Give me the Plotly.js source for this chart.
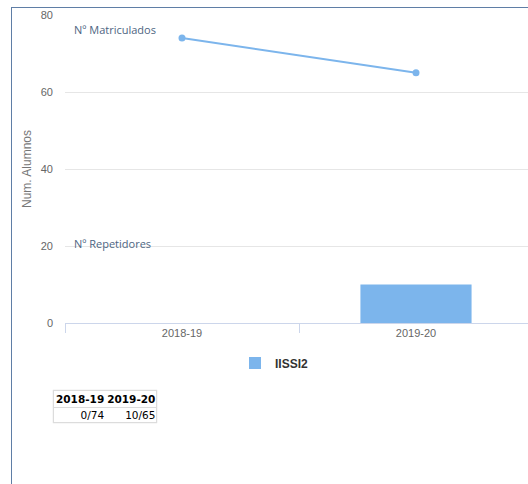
<!DOCTYPE html>
<html>
<head>
<meta charset="utf-8">
<script src="https://cdn.plot.ly/plotly-3.0.1.min.js"></script>
<style>
  html, body { margin: 0; padding: 0; width: 528px; height: 484px; overflow: hidden; background: #fff; }
  #frame { position: absolute; left: 11px; top: 7px; width: 600px; height: 600px;
           border-left: 1px solid #5f7ea6; border-top: 1px solid #5f7ea6; }
  #chart { position: absolute; left: 0; top: 0; width: 540px; height: 484px; }
  #tbl { position: absolute; left: 53px; top: 390px; border-collapse: collapse;
         font-family: "DejaVu Sans", sans-serif; font-size: 10.5px; color: #000;
         border: 1px solid #dcdcdc; box-shadow: 0 0 1px #ccc; }
  #tbl th { font-weight: bold; padding: 2px 1px 2px 2px; text-align: right; border-bottom: 1px solid #dcdcdc; }
  #tbl td { padding: 1px 1px 1px 2px; text-align: right; }
</style>
</head>
<body>
<div id="frame"></div>
<div id="chart"></div>
<table id="tbl"></table>
<script>
// ---- data ----
const categories = ['2018-19', '2019-20'];
const enrolled = [74, 65];          // Nº Matriculados
const repeaters = [0, 10];          // Nº Repetidores
const seriesName = 'IISSI2';
const yTicks = [0, 20, 40, 60, 80];
const labelMatriculados = 'Nº Matriculados';
const labelRepetidores = 'Nº Repetidores';
const yTitle = 'Num. Alumnos';

const blue = '#7cb5ec';

const traces = [
  {
    type: 'bar', x: categories, y: repeaters, name: seriesName,
    marker: { color: blue, line: { width: 0 } }, width: 0.475,
    showlegend: true, hoverinfo: 'x+y'
  },
  {
    type: 'scatter', mode: 'lines+markers', x: categories, y: enrolled, name: seriesName,
    line: { color: blue, width: 2 }, marker: { color: blue, size: 7 },
    showlegend: false
  }
];

const layout = {
  width: 540, height: 484,
  margin: { l: 65, r: 7, t: 15, b: 161 },
  paper_bgcolor: 'rgba(0,0,0,0)', plot_bgcolor: 'rgba(0,0,0,0)',
  font: { family: '"Liberation Sans", Arial, sans-serif', size: 11, color: '#666' },
  showlegend: true,
  legend: {
    orientation: 'h', x: (235 - 65) / 468, xanchor: 'left', y: (323 - 363) / 308, yanchor: 'middle',
    font: { family: '"Liberation Sans", Arial, sans-serif', size: 12, color: '#333', weight: 'bold' },
    bgcolor: 'rgba(0,0,0,0)'
  },
  xaxis: {
    type: 'category', range: [-0.5, 1.5], showgrid: false, zeroline: false,
    showline: true, linecolor: '#ccd6eb', linewidth: 1,
    ticks: 'outside', tickson: 'boundaries', ticklen: 9, tickcolor: '#ccd6eb', tickwidth: 1,
    tickfont: { size: 11, color: '#666' }, fixedrange: true
  },
  yaxis: {
    range: [0, 80], tickvals: yTicks, ticktext: yTicks.map(String),
    showgrid: true, gridcolor: '#e6e6e6', gridwidth: 1, zeroline: false, showline: false,
    ticks: '', ticklabelstandoff: 11,
    tickfont: { size: 11, color: '#666' },
    title: { text: yTitle, font: { size: 12, color: '#777' }, standoff: 6 },
    fixedrange: true
  },
  annotations: [
    { text: labelMatriculados, xref: 'paper', yref: 'paper', x: (72 - 65) / 468, y: (323 - 30) / 308,
      xanchor: 'left', yanchor: 'middle', showarrow: false,
      font: { family: '"Open Sans", sans-serif', size: 11, color: '#4d6582' } },
    { text: labelRepetidores, xref: 'paper', yref: 'paper', x: (72 - 65) / 468, y: (323 - 243) / 308,
      xanchor: 'left', yanchor: 'middle', showarrow: false,
      font: { family: '"Open Sans", sans-serif', size: 11, color: '#4d6582' } }
  ]
};

Plotly.newPlot('chart', traces, layout, { displayModeBar: false, staticPlot: true });

// ---- table built from the data arrays ----
const tbl = document.getElementById('tbl');
const hr = document.createElement('tr');
categories.forEach(c => { const th = document.createElement('th'); th.textContent = c; hr.appendChild(th); });
tbl.appendChild(hr);
const dr = document.createElement('tr');
categories.forEach((c, i) => { const td = document.createElement('td'); td.textContent = repeaters[i] + '/' + enrolled[i]; dr.appendChild(td); });
tbl.appendChild(dr);
</script>
</body>
</html>
